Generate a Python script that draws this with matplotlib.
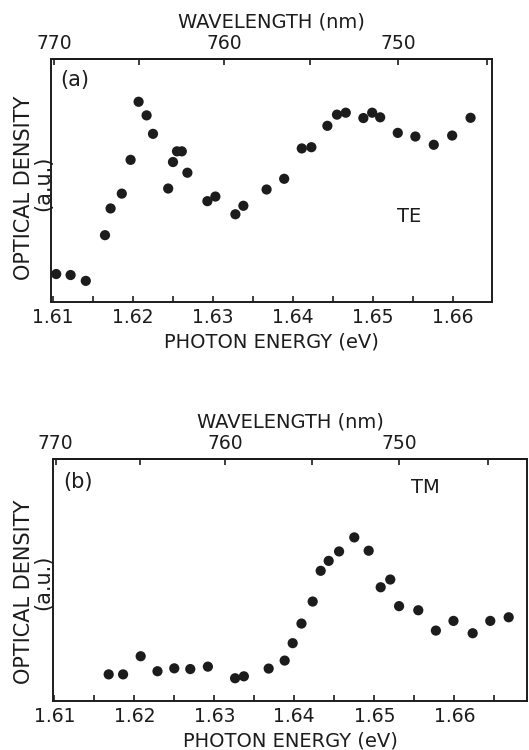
import numpy as np
import matplotlib
matplotlib.use('Agg')
import matplotlib.pyplot as plt
from matplotlib.ticker import FixedLocator, MultipleLocator

# --- CONSTANTES ---
HC = 1239.84  # eV * nm
COLOR = '#1c1c1c'

# --- DATOS (densidad óptica en unidades arbitrarias) ---
# Panel (a): polarización TE
energia_te = [1.6104, 1.6122, 1.6141, 1.6165, 1.6172, 1.6186, 1.6197, 1.6207,
              1.6217, 1.6225, 1.6244, 1.6250, 1.6255, 1.6261, 1.6268, 1.6293,
              1.6303, 1.6328, 1.6338, 1.6367, 1.6389, 1.6411, 1.6423, 1.6443,
              1.6455, 1.6466, 1.6488, 1.6499, 1.6509, 1.6531, 1.6553, 1.6576,
              1.6599, 1.6622]
densidad_te = [11.5, 11.1, 8.7, 27.5, 38.5, 44.6, 58.5, 82.4,
               76.8, 69.2, 46.7, 57.6, 62.0, 62.0, 53.2, 41.5,
               43.4, 36.1, 39.6, 46.3, 50.7, 63.2, 63.7, 72.5,
               77.1, 77.9, 75.7, 77.9, 76.0, 69.6, 68.1, 64.7,
               68.5, 75.8]

# Panel (b): polarización TM
energia_tm = [1.6168, 1.6186, 1.6208, 1.6229, 1.6250, 1.6270, 1.6292, 1.6326,
              1.6337, 1.6368, 1.6388, 1.6398, 1.6409, 1.6423, 1.6433, 1.6443,
              1.6456, 1.6475, 1.6493, 1.6508, 1.6520, 1.6531, 1.6555, 1.6577,
              1.6599, 1.6623, 1.6645, 1.6668]
densidad_tm = [11.0, 11.0, 18.5, 12.3, 13.5, 13.2, 14.2, 9.4,
               10.2, 13.4, 16.7, 23.9, 32.0, 41.1, 53.8, 57.9,
               61.8, 67.6, 62.1, 47.0, 50.2, 39.2, 37.5, 29.1,
               33.1, 28.0, 33.1, 34.6]

ticks_energia = [1.61, 1.62, 1.63, 1.64, 1.65, 1.66]
ticks_onda = [770, 760, 750]
ticks_onda_menores = [765, 755, 745]


def a_longitud(e):
    with np.errstate(divide='ignore'):
        return HC / np.asarray(e, dtype=float)


def a_energia(l):
    with np.errstate(divide='ignore'):
        return HC / np.asarray(l, dtype=float)


def dibujar_panel(ax, energia, densidad, xlim, etiqueta, pos_etiqueta, modo, pos_modo):
    """Dibuja un panel con eje de energía abajo y longitud de onda arriba."""
    ax.scatter(energia, densidad, s=54, color=COLOR, edgecolors='none', zorder=3)
    ax.set_xlim(*xlim)
    ax.set_ylim(0, 100)
    ax.set_yticks([])

    for s in ax.spines.values():
        s.set_linewidth(1.4)
        s.set_color(COLOR)

    ax.xaxis.set_major_locator(FixedLocator(ticks_energia))
    ax.xaxis.set_minor_locator(MultipleLocator(0.005))
    ax.set_xticklabels([f'{t:.2f}' for t in ticks_energia])
    ax.tick_params(axis='x', which='both', direction='in', length=4, width=1.2,
                   colors=COLOR, labelsize=13.5, pad=4, top=False)
    ax.set_xlabel('PHOTON ENERGY (eV)', fontsize=14, color=COLOR, labelpad=4)

    sec = ax.secondary_xaxis('top', functions=(a_longitud, a_energia))
    sec.xaxis.set_major_locator(FixedLocator(ticks_onda))
    sec.xaxis.set_minor_locator(FixedLocator(ticks_onda_menores))
    sec.set_xticklabels([str(t) for t in ticks_onda])
    sec.tick_params(axis='x', which='both', direction='in', length=4, width=1.2,
                    colors=COLOR, labelsize=13.5, pad=4)
    sec.spines['top'].set_linewidth(1.4)
    sec.set_xlabel('WAVELENGTH (nm)', fontsize=14, color=COLOR, labelpad=5)

    ax.text(*pos_etiqueta, etiqueta, transform=ax.transAxes, fontsize=15,
            color=COLOR, va='top', ha='left')
    ax.text(*pos_modo, modo, transform=ax.transAxes, fontsize=14,
            color=COLOR, va='baseline', ha='left')


fig = plt.figure(figsize=(5.29, 7.5), dpi=100)

# posiciones en píxeles medidas en la referencia (izq, arriba, der, abajo)
W, H = 529, 750
ax_a = fig.add_axes([51 / W, 1 - 302 / H, (492 - 51) / W, (302 - 59) / H])
ax_b = fig.add_axes([53 / W, 1 - 701 / H, (527 - 53) / W, (701 - 459) / H])

dibujar_panel(ax_a, energia_te, densidad_te, (1.60975, 1.66488),
              '(a)', (0.022, 0.955), 'TE', (0.785, 0.33))
dibujar_panel(ax_b, energia_tm, densidad_tm, (1.60984, 1.66909),
              '(b)', (0.021, 0.945), 'TM', (0.756, 0.86))

# Etiquetas del eje vertical (dos líneas)
for centro in (188, 592):
    fig.text(24 / W, 1 - centro / H, 'OPTICAL DENSITY', rotation=90,
             fontsize=15, color=COLOR, ha='center', va='center')
for centro in (183, 582):
    fig.text(43 / W, 1 - centro / H, '(a.u.)', rotation=90,
             fontsize=15, color=COLOR, ha='center', va='center')

fig.savefig('out.png', dpi=100)
